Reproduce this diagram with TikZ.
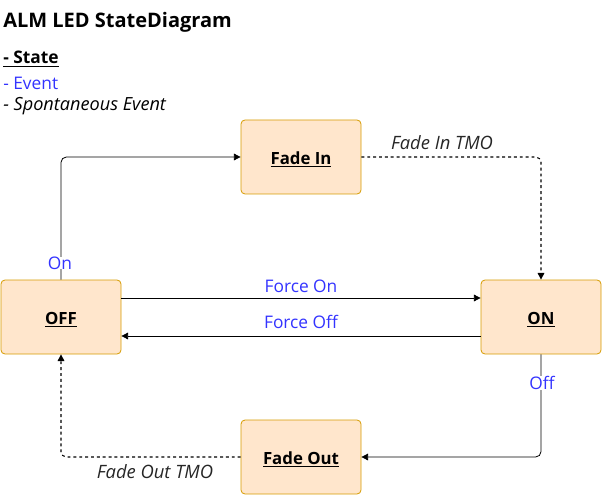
\documentclass[tikz,border=0pt]{standalone}
\usepackage{fontspec}
\setmainfont{Open Sans}
\usetikzlibrary{arrows.meta}
\definecolor{stfill}{HTML}{FFE6CC}
\definecolor{stdraw}{HTML}{D79B00}
\definecolor{evblue}{HTML}{3333FF}
\tikzset{
  statebox/.style={draw=stdraw, fill=stfill, rounded corners=3pt, minimum width=90pt, minimum height=55.5pt, inner sep=0pt, text height=13pt, text depth=2pt, font=\fontsize{12.6}{15}\selectfont\bfseries, line width=0.6pt},
  conn/.style={-{Triangle[length=5pt,width=5pt]}, line width=0.6pt, rounded corners=4pt},
  spont/.style={conn, line width=0.8pt, dash pattern=on 2.2pt off 2.2pt},
  evlabel/.style={text=evblue, font=\fontsize{13}{15}\selectfont, inner sep=0pt},
  splabel/.style={text=black!85, font=\fontsize{13.8}{16}\selectfont\itshape, inner sep=0pt},
}
\begin{document}
\begin{tikzpicture}[x=0.75pt, y=-0.75pt]
\useasboundingbox (0,0) rectangle (602,495);
% title and legend
\node[anchor=west, inner sep=0pt, font=\fontsize{15}{18}\selectfont\bfseries] (title) at (3,22) {ALM LED StateDiagram};
\node[anchor=west, inner sep=0pt, font=\fontsize{13}{15}\selectfont\bfseries] (lgstate) at (3,59) {\underline{- State}};
\node[anchor=west, inner sep=0pt, font=\fontsize{13}{15}\selectfont, text=evblue] (lgevent) at (3,83) {- Event};
\node[anchor=west, inner sep=0pt, font=\fontsize{13.6}{16}\selectfont\itshape] (lgspont) at (3,106) {- Spontaneous Event};
% states
\node[statebox] (fadein) at (301,157) {\underline{Fade In}};
\node[statebox] (off) at (61,317) {\underline{OFF}};
\node[statebox] (on) at (541,317) {\underline{ON}};
\node[statebox] (fadeout) at (301,457) {\underline{Fade Out}};
% connectors
\draw[conn] (off.north) -- (61,157) -- (fadein.west);
\draw[spont] (fadein.east) -- (541,157) -- (on.north);
\draw[conn] ([yshift=14.25pt]off.east) -- ([yshift=14.25pt]on.west);
\draw[conn] ([yshift=-14.25pt]on.west) -- ([yshift=-14.25pt]off.east);
\draw[conn] (on.south) -- (541,457) -- (fadeout.east);
\draw[spont] (fadeout.west) -- (61,457) -- (off.south);
% labels
\node[evlabel, fill=white] (lon) at (60,263) {On};
\node[splabel] (lfit) at (442,143) {Fade In TMO};
\node[evlabel] (lfon) at (301,286) {Force On};
\node[evlabel] (lfoff) at (301,322) {Force Off};
\node[evlabel, fill=white] (loff) at (542,383) {Off};
\node[splabel] (lfot) at (155,472) {Fade Out TMO};
\end{tikzpicture}
\end{document}
